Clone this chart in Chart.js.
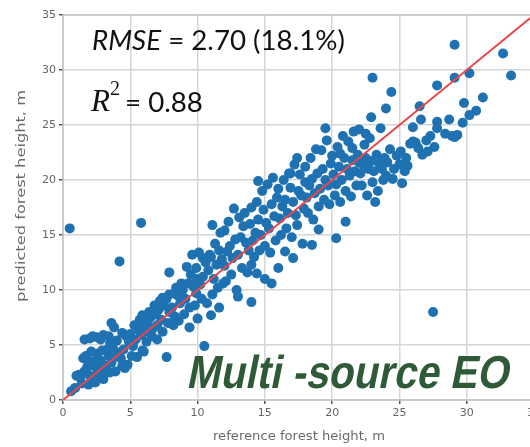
<!DOCTYPE html>
<html>
<head>
<meta charset="utf-8">
<script src="https://cdn.jsdelivr.net/npm/chart.js@4.4.1/dist/chart.umd.min.js"></script>
<style>
  html, body { margin: 0; padding: 0; background: #fff; overflow: hidden; }
  #wrap { width: 545px; height: 447px; }
</style>
</head>
<body>
<div id="wrap"><canvas id="scatterChart"></canvas></div>
<script>
/**
 * Data: reference vs predicted forest height (m)
 */
const refHeight = [
  // 0 - 2
  0.6, 0.9, 1.2, 1.0, 1.4, 1.6, 1.8, 1.5, 1.3, 1.9, 2.0, 1.7, 1.6, 2.0, 1.9, 0.5,
  // 2 - 4
  2.2, 2.5, 2.8, 3.0, 3.4, 2.2, 2.4, 2.6, 2.8, 3.0, 3.2, 3.4, 3.6, 2.3, 2.7, 3.1, 3.5, 2.1, 2.5, 2.9,
  3.3, 3.7, 3.8, 3.9, 3.6, 3.8, 3.5, 3.0, 2.4, 4.2,
  // 4 - 6
  4.1, 4.3, 4.5, 4.7, 4.9, 5.0, 5.2, 5.4, 5.6, 5.8, 4.4, 4.0, 5.1, 5.5, 5.9, 5.3, 5.7, 5.8, 4.6, 5.9,
  4.8, 4.4, 5.7,
  // 6 - 8
  6.1, 6.3, 6.5, 6.7, 6.9, 7.1, 7.3, 7.5, 7.7, 7.9, 6.2, 6.6, 7.0, 7.4, 7.8, 6.4, 6.8, 7.2, 7.7, 6.0,
  7.0, 7.9, 7.4, 7.9,
  // 8 - 10
  8.1, 8.3, 8.5, 8.7, 8.9, 9.1, 9.3, 9.5, 9.7, 9.9, 8.2, 8.6, 9.0, 9.4, 9.8, 8.4, 8.8, 9.2, 9.6, 9.9,
  10.1, 9.4, 10.0, 9.9, 8.7,
  // 10 - 12
  10.2, 10.4, 10.6, 10.8, 11.0, 11.2, 11.4, 11.6, 11.8, 10.3, 10.7, 11.1, 11.5, 11.9, 10.5, 10.9,
  11.3, 11.7, 10.4, 11.0, 11.6, 11.1,
  // 12 - 14
  12.0, 12.2, 12.4, 12.6, 12.8, 13.0, 13.2, 13.4, 13.6, 13.8, 12.1, 12.5, 12.9, 13.3, 13.7, 12.3,
  12.7, 13.1, 13.5, 13.9, 12.0, 13.0, 14.0,
  // 14 - 16
  14.1, 14.3, 14.5, 14.7, 14.9, 15.1, 15.3, 15.5, 15.7, 15.9, 14.2, 14.6, 15.0, 15.4, 15.8, 14.4,
  14.8, 15.2, 15.6, 14.0, 15.0, 16.0, 15.5, 14.5, 14.4, 14.0,
  // 16 - 18
  16.1, 16.3, 16.5, 16.7, 16.9, 17.1, 17.3, 17.5, 17.7, 17.9, 16.2, 16.6, 17.0, 17.4, 17.8, 16.4,
  16.8, 17.2, 17.4, 16.0, 17.1, 16.5, 18.0, 17.6, 16.9,
  // 18 - 20
  18.1, 18.3, 18.5, 18.7, 18.9, 19.1, 19.3, 19.5, 19.7, 19.9, 18.2, 18.6, 19.0, 19.4, 19.8, 18.4,
  18.8, 19.2, 19.6, 18.5, 19.0, 19.5, 20.0, 18.0,
  // 20 - 22
  20.1, 20.3, 20.5, 20.7, 20.9, 21.1, 21.3, 21.5, 21.7, 21.9, 20.2, 20.6, 21.0, 21.4, 21.8, 20.4,
  20.8, 21.2, 21.6, 22.0, 20.3, 21.0, 22.0, 20.6, 21.5,
  // 22 - 24
  22.1, 22.3, 22.5, 22.7, 22.9, 23.1, 23.3, 23.5, 23.7, 23.9, 22.2, 22.6, 23.0, 23.4, 23.8, 22.4,
  22.8, 22.9, 23.6, 23.0, 24.0, 23.2, 22.5, 24.0,
  // 24 - 26
  24.1, 24.3, 24.4, 24.6, 24.8, 25.0, 25.2, 25.4, 25.5, 25.8, 26.0, 25.1, 24.5, 25.6, 26.0,
  // 26 - 28
  26.2, 26.5, 26.6, 26.7, 27.0, 27.3, 27.6, 27.8, 27.8, 27.8, 27.5, 26.4, 27.1,
  // 28+
  28.4, 28.7, 29.1, 29.1, 29.1, 29.3, 29.7, 29.8, 30.2, 30.2, 30.7, 31.2, 32.7, 33.3, 28.9
];
const predHeight = [
  // 0 - 2
  0.8, 1.1, 2.3, 2.2, 1.5, 2.6, 3.0, 3.8, 2.0, 1.4, 2.2, 4.0, 5.5, 5.6, 3.3, 15.6,
  // 2 - 4
  5.8, 5.7, 5.5, 5.9, 5.8, 3.5, 3.0, 2.6, 3.6, 3.2, 2.8, 4.0, 3.4, 2.0, 2.1, 2.4, 2.5, 4.4, 4.2, 4.5,
  4.6, 4.8, 3.9, 2.6, 7.0, 6.6, 5.2, 1.9, 1.6, 12.6,
  // 4 - 6
  4.3, 3.8, 4.6, 5.8, 5.3, 6.0, 4.9, 5.5, 6.4, 5.9, 3.1, 5.4, 4.0, 3.9, 4.5, 6.8, 7.3, 16.1, 2.9, 7.7,
  3.2, 6.1, 6.6,
  // 6 - 8
  6.2, 7.0, 7.5, 6.5, 7.8, 8.2, 7.3, 8.6, 9.2, 8.0, 5.3, 5.8, 6.8, 6.2, 7.0, 8.0, 8.6, 9.0, 3.9, 4.4,
  5.5, 9.6, 9.3, 11.6,
  // 8 - 10
  8.4, 7.6, 9.5, 8.8, 10.0, 9.2, 10.6, 11.4, 10.3, 9.7, 6.8, 7.2, 7.8, 8.4, 8.6, 10.2, 10.6, 12.1, 13.2, 12.0,
  13.4, 6.6, 7.4, 11.0, 9.7,
  // 10 - 12
  10.5, 11.2, 12.5, 11.8, 13.0, 11.0, 12.3, 13.6, 12.8, 9.2, 8.8, 9.6, 10.2, 10.6, 4.9, 13.2,
  14.2, 15.2, 12.9, 7.7, 8.4, 15.9,
  // 12 - 14
  12.2, 13.5, 14.0, 12.9, 14.6, 13.2, 14.8, 15.8, 14.3, 13.6, 10.8, 11.4, 10.0, 12.0, 11.6, 16.2,
  17.4, 16.6, 17.0, 16.0, 15.4, 9.4, 12.3,
  // 14 - 16
  14.5, 15.2, 16.4, 15.0, 17.3, 16.1, 15.6, 17.8, 16.7, 18.4, 13.0, 13.6, 14.0, 13.4, 14.5, 18.0,
  19.0, 19.6, 20.2, 17.5, 11.0, 12.0, 10.6, 19.9, 11.5, 8.9,
  // 16 - 18
  16.5, 17.6, 18.2, 17.0, 19.3, 18.0, 16.8, 19.0, 18.6, 17.4, 15.0, 15.6, 14.8, 15.9, 14.2, 20.0,
  20.6, 21.4, 22.0, 19.2, 12.9, 13.5, 19.8, 20.5, 20.6,
  // 18 - 20
  18.4, 19.5, 20.1, 18.8, 20.6, 19.2, 21.0, 20.0, 19.5, 21.5, 17.0, 16.4, 17.6, 18.2, 17.8, 22.0,
  22.8, 22.7, 23.6, 14.1, 15.5, 24.7, 22.2, 21.2,
  // 20 - 22
  20.5, 19.6, 21.2, 20.0, 22.0, 21.0, 20.4, 21.8, 20.8, 22.3, 18.6, 18.0, 19.0, 18.5, 19.5, 23.0,
  24.0, 23.5, 24.4, 21.6, 14.7, 16.2, 24.6, 22.4, 22.9,
  // 22 - 24
  20.6, 21.4, 22.0, 21.0, 21.7, 20.8, 22.3, 21.5, 21.0, 22.0, 19.5, 18.6, 19.8, 19.0, 20.0, 23.2,
  23.8, 25.7, 24.7, 29.3, 26.5, 18.0, 24.2, 20.4,
  // 24 - 26
  21.6, 22.8, 28.0, 21.0, 22.2, 21.4, 19.7, 20.8, 22.0, 23.3, 24.8, 22.6, 20.1, 21.3, 23.5,
  // 26 - 28
  23.4, 26.7, 25.5, 22.3, 23.6, 24.0, 23.0, 24.7, 25.3, 28.6, 8.0, 22.9, 22.6,
  // 28+
  24.2, 25.5, 23.9, 29.3, 32.3, 24.1, 25.2, 27.0, 25.9, 29.7, 26.3, 27.5, 31.5, 29.5, 24.0
];
const oneToOne = [0, 35];
const AXIS_MIN = 0;
const AXIS_MAX = 35;
const TICK_STEP = 5;
const X_TITLE = 'reference forest height, m';
const Y_TITLE = 'predicted forest height, m';

const POINT_COLOR = '#1f72b2';
const LINE_COLOR = '#e8474c';
const GRID_COLOR = '#d6d6d6';
const TEXT_GREEN = '#2f5a37';

//////////////////////////////////////////////////////////////////

/**
 * Draw frame round the plot area
 */
const framePlugin = {
  id: 'framePlugin',
  beforeDatasetsDraw(chart) {
    const a = chart.chartArea;
    const ctx = chart.ctx;
    ctx.save();
    ctx.strokeStyle = '#c4c4c4';
    ctx.lineWidth = 1.5;
    ctx.strokeRect(a.left, a.top, a.right - a.left, a.bottom - a.top);
    ctx.restore();
  }
};

/**
 * Draw text stretched to a given width
 */
function fitText(ctx, text, x, y, width, rotate) {
  const w = ctx.measureText(text).width;
  ctx.save();
  ctx.translate(x, y);
  if (rotate) ctx.rotate(-Math.PI / 2);
  ctx.scale(width / w, 1);
  ctx.fillText(text, 0, 0);
  ctx.restore();
}

/**
 * Axis titles, stats text + watermark
 */
const textPlugin = {
  id: 'textPlugin',
  afterDatasetsDraw(chart) {
    const ctx = chart.ctx;
    ctx.save();

    // axis titles
    ctx.fillStyle = '#6a6a6a';
    ctx.textAlign = 'center';
    ctx.textBaseline = 'middle';
    ctx.font = '12px "DejaVu Sans"';
    fitText(ctx, X_TITLE, 299, 437, 172, false);
    fitText(ctx, Y_TITLE, 22, 196, 212, true);

    ctx.fillStyle = '#111';
    ctx.textBaseline = 'alphabetic';
    ctx.textAlign = 'left';

    // RMSE line, fit to the width seen in the picture
    let size = 26;
    ctx.font = 'italic ' + size + 'px Lato';
    let w1 = ctx.measureText('RMSE').width;
    ctx.font = size + 'px Lato';
    let w2 = ctx.measureText(' = 2.70 (18.1%)').width;
    size = size * 253 / (w1 + w2);
    ctx.font = 'italic ' + size + 'px Lato';
    ctx.fillText('RMSE', 92, 50);
    w1 = ctx.measureText('RMSE').width;
    ctx.font = size + 'px Lato';
    ctx.fillText(' = 2.70 (18.1%)', 92 + w1, 50);

    // R^2 line
    ctx.font = 'italic 31px "Liberation Serif"';
    ctx.fillText('R', 91, 111);
    ctx.font = '20px "Liberation Serif"';
    ctx.fillText('2', 110, 95);
    ctx.font = size + 'px Lato';
    ctx.fillText('= 0.88', 125, 112);

    // watermark (slanted by hand so it does not depend on an italic face)
    ctx.fillStyle = TEXT_GREEN;
    ctx.font = 'bold 38px "Liberation Sans"';
    const label = 'Multi -source EO';
    const wm = ctx.measureText(label).width;
    ctx.translate(186, 388);
    ctx.transform(1, 0, -0.2, 1, 0, 0);
    ctx.scale(322 / wm, 1.22);
    ctx.fillText(label, 0, 0);
    ctx.restore();
  }
};

/**
 * Init scatter chart
 */
function loadScatterChart(id) {
  const points = refHeight.map(function (x, i) {
    return { x: x, y: predHeight[i] };
  });
  const linePoints = oneToOne.map(function (v) {
    return { x: v, y: v };
  });
  const data = {
    datasets: [
      {
        label: '1:1',
        data: linePoints,
        showLine: true,
        borderColor: LINE_COLOR,
        borderWidth: 2,
        pointRadius: 0,
        order: 0
      },
      {
        label: 'samples',
        data: points,
        backgroundColor: POINT_COLOR,
        borderWidth: 0,
        pointRadius: 5,
        order: 1
      }
    ]
  };
  const tickFont = { family: 'DejaVu Sans', size: 11 };
  const config = {
    type: 'scatter',
    data: data,
    options: {
      responsive: false,
      animation: false,
      layout: { padding: { left: 0, top: 15, right: 11, bottom: 0 } },
      plugins: {
        legend: { display: false },
        tooltip: { enabled: false }
      },
      scales: {
        x: {
          min: AXIS_MIN,
          max: AXIS_MAX,
          ticks: { stepSize: TICK_STEP, color: '#666', font: tickFont, padding: 3 },
          grid: { color: GRID_COLOR, lineWidth: 1.5, tickColor: '#555', tickLength: 4 },
          border: { display: false },
          title: { display: false },
          afterFit: function (scale) { scale.height = 47; }
        },
        y: {
          min: AXIS_MIN,
          max: AXIS_MAX,
          ticks: { stepSize: TICK_STEP, color: '#666', font: tickFont, padding: 3 },
          grid: { color: GRID_COLOR, lineWidth: 1.5, tickColor: '#555', tickLength: 4 },
          border: { display: false },
          title: { display: false },
          afterFit: function (scale) { scale.width = 63; }
        }
      }
    },
    plugins: [framePlugin, textPlugin]
  };
  const ctx = document.getElementById(id);
  ctx.width = 545;
  ctx.height = 447;
  new Chart(ctx, config);
}

loadScatterChart('scatterChart');
</script>
</body>
</html>
